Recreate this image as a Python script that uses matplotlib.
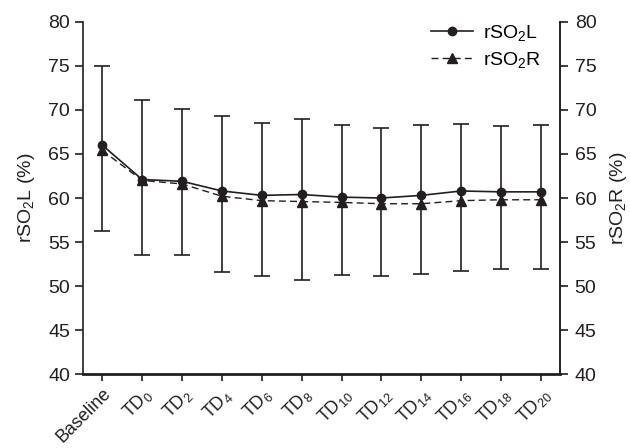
import numpy as np
import matplotlib.pyplot as plt

plt.rcParams['font.family'] = ['Liberation Sans', 'DejaVu Sans']
plt.rcParams['mathtext.fontset'] = 'custom'
plt.rcParams['mathtext.rm'] = 'Liberation Sans'
plt.rcParams['mathtext.it'] = 'Liberation Sans'

# --- Data ---
labels = ['Baseline', 'TD$_{0}$', 'TD$_{2}$', 'TD$_{4}$', 'TD$_{6}$', 'TD$_{8}$',
          'TD$_{10}$', 'TD$_{12}$', 'TD$_{14}$', 'TD$_{16}$', 'TD$_{18}$', 'TD$_{20}$']
rso2_L = [66.0, 62.1, 61.9, 60.8, 60.3, 60.4, 60.1, 60.0, 60.3, 60.8, 60.7, 60.7]
rso2_R = [65.4, 62.0, 61.6, 60.2, 59.7, 59.6, 59.5, 59.35, 59.35, 59.7, 59.8, 59.8]
err_upper = [75.0, 71.1, 70.1, 69.3, 68.5, 69.0, 68.3, 68.0, 68.3, 68.4, 68.2, 68.3]
err_lower = [56.3, 53.5, 53.5, 51.6, 51.1, 50.7, 51.2, 51.1, 51.4, 51.7, 51.9, 51.9]

x = np.arange(len(labels))
L = np.array(rso2_L)
yerr = [L - np.array(err_lower), np.array(err_upper) - L]

ink = '#231f20'
fs = 14

fig = plt.figure(figsize=(6.3, 4.48), dpi=100)
ax = fig.add_axes([0.132, 0.165, 0.757, 0.786])

# error bars (drawn on the L series)
ax.errorbar(x, L, yerr=yerr, fmt='none', ecolor=ink, elinewidth=1.2,
            capsize=5.5, capthick=1.2, zorder=1)
ax.plot(x, rso2_L, '-', color=ink, marker='o', markersize=6, linewidth=1.2,
        label='rSO$_2$L', zorder=3)
ax.plot(x, rso2_R, '--', color=ink, marker='^', markersize=6.5, linewidth=1.0,
        dashes=(5, 3), label='rSO$_2$R', zorder=2)

ax.set_xlim(-0.48, 11.48)
ax.set_ylim(40, 80)
ax.set_yticks(np.arange(40, 81, 5))
ax.set_xticks(x)
ax.set_xticklabels(labels, rotation=45, ha='right', rotation_mode='anchor',
                   fontsize=13, color=ink)

ax.spines['top'].set_visible(False)
ax.spines['left'].set_linewidth(1.2)
ax.spines['right'].set_linewidth(1.2)
ax.spines['bottom'].set_linewidth(2.0)
for s in ['left', 'right', 'bottom']:
    ax.spines[s].set_color(ink)

ax.tick_params(axis='y', direction='out', length=5.5, width=1.2, labelsize=fs,
               colors=ink, pad=4)
ax.tick_params(axis='x', direction='out', length=5, width=1.2, colors=ink, pad=3)
ax.set_ylabel('rSO$_2$L (%)', fontsize=fs, color=ink, labelpad=8)

# right axis
ax2 = ax.twinx()
ax2.set_ylim(40, 80)
ax2.set_yticks(np.arange(40, 81, 5))
ax2.tick_params(axis='y', direction='out', length=5.5, width=1.2, labelsize=fs,
                colors=ink, pad=5)
ax2.set_ylabel('rSO$_2$R (%)', fontsize=fs, color=ink, labelpad=8)
for s in ['top', 'left', 'bottom']:
    ax2.spines[s].set_visible(False)
ax2.spines['right'].set_linewidth(1.2)
ax2.spines['right'].set_color(ink)

ax.legend(loc='upper right', frameon=False, fontsize=fs, handlelength=2.2,
          handletextpad=0.5, borderaxespad=0.2, labelspacing=0.35,
          bbox_to_anchor=(0.985, 1.03))

fig.savefig('out.png', dpi=100)
